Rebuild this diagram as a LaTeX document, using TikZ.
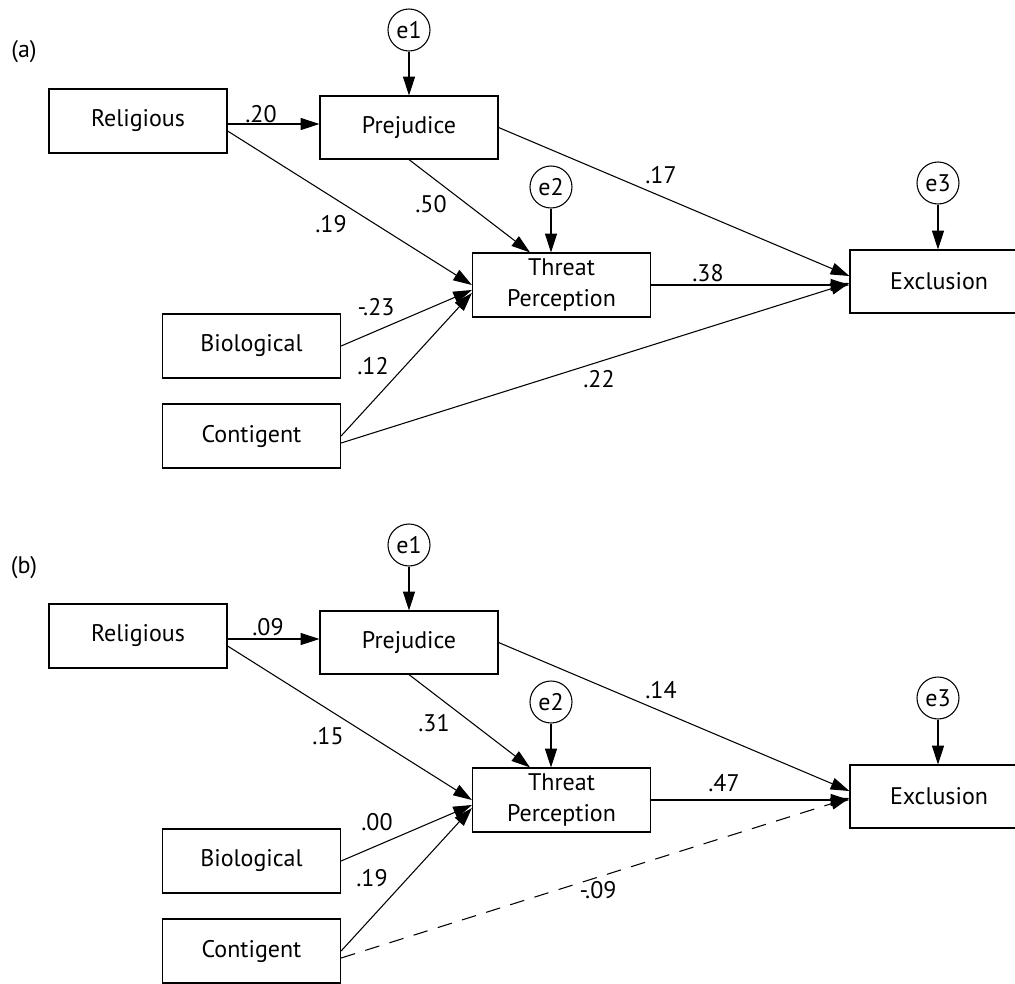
\documentclass[tikz,border=0pt]{standalone}
\usepackage{fontspec}
\setmainfont{PT Sans}
\usetikzlibrary{arrows.meta}
\usetikzlibrary{calc}

\begin{document}
\begin{tikzpicture}[x=0.75pt,y=0.75pt,yscale=-1,xscale=1,
  font=\fontsize{18}{23}\selectfont,
  obs/.style={draw,line width=0.9pt,minimum width=133.5pt,minimum height=48pt,inner sep=0pt,align=center},
  res/.style={draw,circle,line width=0.8pt,minimum size=31.5pt,inner sep=0pt},
  eff/.style={line width=0.8pt,-{Triangle[length=14pt,width=9pt]}},
  coef/.style={inner sep=0.75pt}]
\useasboundingbox (0,0) rectangle (1015,983);
% (a)
\node [coef] (labA) at (24,52) {(a)};
\node [res] (e1A) at (409,30) {e1};
\node [obs] (relA) at (138,121) {Religious};
\node [obs,minimum height=47.25pt] (prejA) at (409,127.5) {Prejudice};
\node [res] (e2A) at (551,187) {e2};
\node [obs] (thrA) at (561.5,285) {Threat\\Perception};
\node [res] (e3A) at (938,183) {e3};
\node [obs,minimum height=47.25pt] (exclA) at (939,281.5) {Exclusion};
\node [obs] (bioA) at (251.5,346) {Biological};
\node [obs] (contA) at (251.5,436) {Contigent};
\draw [eff] (e1A) -- (e1A |- prejA.north);
\draw [eff] (e2A) -- (e2A |- thrA.north);
\draw [eff] (e3A) -- (e3A |- exclA.north);
\draw [eff] ($(relA.east)+(0,3)$) -- ($(prejA.west)+(0,-3.5)$);
\draw [eff] ($(relA.east)+(0,10)$) -- (thrA.west);
\draw [eff] (prejA.south) -- ($(thrA.north)+(-31.5,0)$);
\draw [eff] (bioA.east) -- ($(thrA.west)+(0,5)$);
\draw [eff] (contA.east) -- ($(thrA.west)+(0,8)$);
\draw [eff] (prejA.east) -- ($(exclA.west)+(0,-5.5)$);
\draw [eff] (thrA.east) -- (thrA.east -| exclA.west);
\draw [eff] ($(contA.east)+(0,7)$) -- ($(exclA.west)+(0,1.5)$);
\node [coef] (cRPA) at (261,114) {.20};
\node [coef] (cRTA) at (331,224) {.19};
\node [coef] (cPTA) at (431,204) {.50};
\node [coef] (cBTA) at (376,307) {-.23};
\node [coef] (cCTA) at (373,366) {.12};
\node [coef] (cPEA) at (661,175) {.17};
\node [coef] (cTEA) at (708,273) {.38};
\node [coef] (cCEA) at (599,379) {.22};
% (b)
\node [coef] (labB) at (24,568) {(b)};
\node [res] (e1B) at (409,545) {e1};
\node [obs] (relB) at (138,636) {Religious};
\node [obs,minimum height=47.25pt] (prejB) at (409,642.5) {Prejudice};
\node [res] (e2B) at (551,702) {e2};
\node [obs] (thrB) at (561.5,800) {Threat\\Perception};
\node [res] (e3B) at (938,698) {e3};
\node [obs,minimum height=47.25pt] (exclB) at (939,796.5) {Exclusion};
\node [obs] (bioB) at (251.5,861) {Biological};
\node [obs] (contB) at (251.5,951) {Contigent};
\draw [eff] (e1B) -- (e1B |- prejB.north);
\draw [eff] (e2B) -- (e2B |- thrB.north);
\draw [eff] (e3B) -- (e3B |- exclB.north);
\draw [eff] ($(relB.east)+(0,3)$) -- ($(prejB.west)+(0,-3.5)$);
\draw [eff] ($(relB.east)+(0,10)$) -- (thrB.west);
\draw [eff] (prejB.south) -- ($(thrB.north)+(-31.5,0)$);
\draw [eff] (bioB.east) -- ($(thrB.west)+(0,5)$);
\draw [eff] (contB.east) -- ($(thrB.west)+(0,8)$);
\draw [eff] (prejB.east) -- ($(exclB.west)+(0,-5.5)$);
\draw [eff] (thrB.east) -- (thrB.east -| exclB.west);
\draw [eff,dash pattern=on 11pt off 8pt] ($(contB.east)+(0,7)$) -- ($(exclB.west)+(0,1.5)$);
\node [coef] (cRPB) at (268,627) {.09};
\node [coef] (cRTB) at (328,736) {.15};
\node [coef] (cPTB) at (434,723) {.31};
\node [coef] (cBTB) at (377,822) {.00};
\node [coef] (cCTB) at (372,878) {.19};
\node [coef] (cPEB) at (661,690) {.14};
\node [coef] (cTEB) at (724,783) {.47};
\node [coef] (cCEB) at (598,890) {-.09};
\end{tikzpicture}
\end{document}
